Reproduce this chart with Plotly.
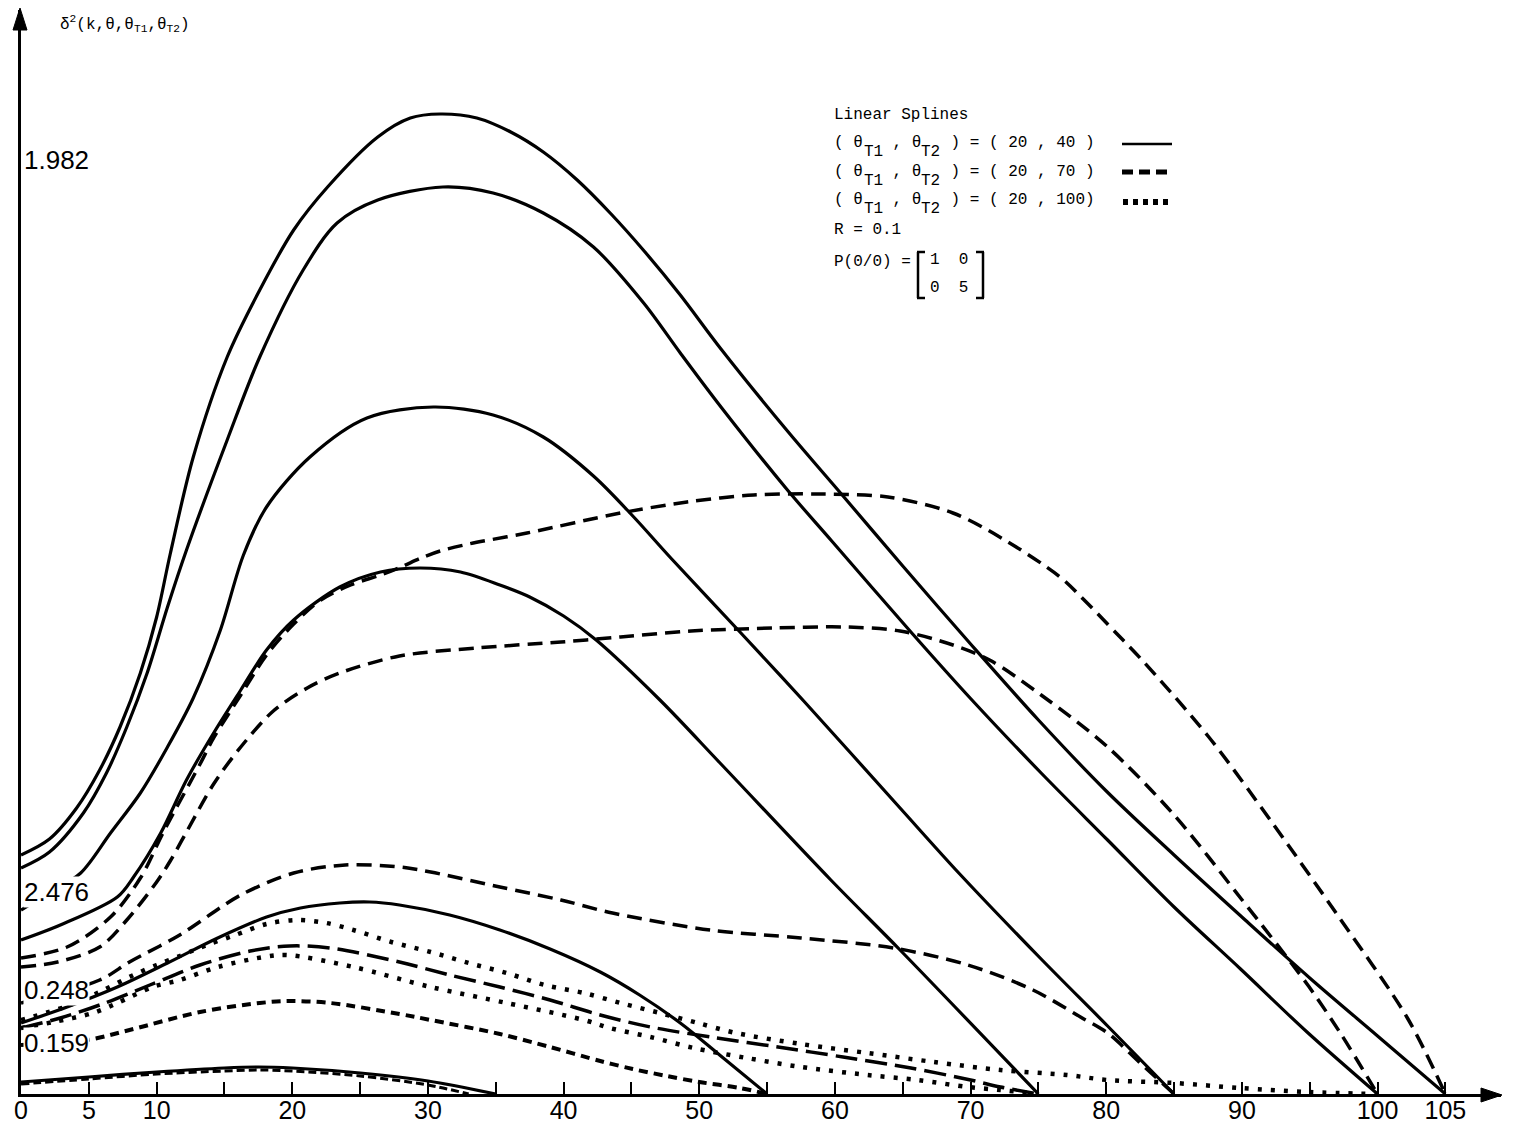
import plotly.graph_objects as go

# ---------------- data (theta, delta^2 in arbitrary vertical units) ----------------
# (theta_T1, theta_T2) = (20, 40)  -> solid
theta_s1 = [0, 2.1, 4.1, 5.8, 7.3, 8.8, 10.0, 11.0, 12.7, 15.2, 17.6, 20.1, 22.6, 26.3, 28.7, 30.9, 33.6, 36.1, 38.5, 41.0, 43.5, 46.0, 48.6, 51.6, 56.5, 60.6, 65.0, 70.0, 75.0, 80.0, 85.0, 90.0, 95.0, 100.0, 105]
val_s1 = [2.39, 2.55, 2.86, 3.24, 3.67, 4.21, 4.77, 5.40, 6.37, 7.37, 8.04, 8.64, 9.07, 9.57, 9.76, 9.80, 9.76, 9.62, 9.42, 9.14, 8.80, 8.42, 7.99, 7.45, 6.63, 5.98, 5.28, 4.50, 3.74, 3.03, 2.39, 1.77, 1.16, 0.58, 0]

theta_s2 = [0, 2.1, 4.6, 6.3, 7.8, 9.3, 10.8, 12.2, 15.2, 17.6, 20.8, 23.3, 26.3, 31.1, 34.8, 38.5, 42.2, 45.9, 48.6, 51.6, 56.5, 59.7, 65.6, 70.1, 75.2, 80.1, 85.0, 89.9, 94.8, 100]
val_s2 = [2.26, 2.42, 2.81, 3.21, 3.67, 4.21, 4.87, 5.44, 6.54, 7.37, 8.24, 8.71, 8.94, 9.07, 9.01, 8.81, 8.47, 7.91, 7.41, 6.87, 6.04, 5.54, 4.62, 3.94, 3.21, 2.54, 1.87, 1.25, 0.62, 0]

theta_s3 = [0, 2.1, 4.4, 6.6, 8.8, 10.8, 12.7, 14.7, 16.4, 18.1, 21.3, 25.5, 30.4, 34.8, 38.5, 42.2, 45.1, 47.9, 53.0, 57.7, 64.8, 69.2, 75.2, 80.1, 85]
val_s3 = [1.84, 2.01, 2.21, 2.61, 3.01, 3.47, 3.96, 4.64, 5.39, 5.87, 6.37, 6.76, 6.87, 6.79, 6.57, 6.18, 5.78, 5.36, 4.62, 3.93, 2.86, 2.20, 1.35, 0.68, 0]

theta_s4 = [0, 2.9, 7.1, 8.3, 10.3, 12.2, 14.2, 16.2, 18.1, 20.1, 23.5, 26.5, 29.4, 32.4, 35.3, 37.5, 40.0, 42.4, 47.1, 51.6, 59.7, 64.8, 75]
val_s4 = [1.54, 1.69, 1.97, 2.17, 2.61, 3.14, 3.61, 4.04, 4.44, 4.74, 5.07, 5.22, 5.26, 5.22, 5.09, 4.97, 4.78, 4.54, 3.94, 3.30, 2.14, 1.44, 0]

theta_s5 = [0, 3.4, 7.1, 10.8, 14.5, 18.1, 20.6, 23.5, 25.7, 27.9, 31.6, 35.3, 39.0, 42.7, 45.6, 48.6, 51.5, 55]
val_s5 = [0.71, 0.87, 1.07, 1.31, 1.56, 1.77, 1.86, 1.91, 1.92, 1.89, 1.79, 1.64, 1.45, 1.22, 0.99, 0.71, 0.39, 0]

theta_s6 = [0, 5, 10, 15, 17.5, 20, 25, 30, 35]
val_s6 = [0.12, 0.17, 0.22, 0.26, 0.27, 0.26, 0.21, 0.13, 0]

# (theta_T1, theta_T2) = (20, 70)  -> dashed
theta_d1 = [0, 3.4, 6.6, 8.8, 10.5, 13.2, 14.2, 16.2, 18.1, 20.1, 22.1, 24.3, 26.5, 28.0, 29.5, 30.9, 33.0, 37.3, 44.2, 49.1, 54.0, 58.9, 63.9, 68.7, 72.4, 76.6, 78.3, 80.8, 82.5, 87.5, 92.3, 97.3, 102.2, 105]
val_d1 = [1.36, 1.47, 1.77, 2.16, 2.62, 3.30, 3.56, 3.99, 4.39, 4.70, 4.94, 5.09, 5.19, 5.27, 5.36, 5.43, 5.50, 5.61, 5.81, 5.92, 5.99, 6.00, 5.97, 5.81, 5.55, 5.17, 4.95, 4.60, 4.36, 3.58, 2.70, 1.74, 0.76, 0]

theta_d2 = [0, 2.7, 5.8, 7.8, 10.0, 11.0, 12.2, 14.2, 16.2, 18.6, 21.1, 23.5, 27.9, 33.6, 39.8, 44.2, 49.4, 55.5, 60.8, 64.8, 68.7, 71.4, 75.2, 80.1, 85.0, 89.9, 94.8, 97.3, 100]
val_d2 = [1.27, 1.32, 1.47, 1.74, 2.12, 2.33, 2.62, 3.10, 3.47, 3.83, 4.06, 4.21, 4.38, 4.46, 4.52, 4.57, 4.63, 4.66, 4.67, 4.63, 4.49, 4.34, 3.99, 3.47, 2.79, 1.96, 1.10, 0.60, 0]

theta_d3 = [0, 5.8, 8.0, 11.7, 16.2, 20.1, 23.9, 27.9, 30.2, 35.3, 39.8, 43.6, 50.8, 57.5, 64.3, 69.8, 74.6, 78.1, 80.1, 82.5, 85]
val_d3 = [0.91, 1.14, 1.32, 1.59, 1.99, 2.21, 2.29, 2.27, 2.22, 2.07, 1.94, 1.81, 1.64, 1.56, 1.46, 1.29, 1.04, 0.77, 0.61, 0.31, 0]

theta_d4 = [0, 2.9, 5.8, 9.5, 13.2, 16.9, 19.8, 22.8, 27.9, 31.6, 35.3, 39.0, 42.7, 46.4, 51.3, 55.8, 60.6, 65.6, 70.0, 72.2, 75]
val_d4 = [0.66, 0.76, 0.89, 1.09, 1.29, 1.43, 1.48, 1.46, 1.32, 1.19, 1.07, 0.94, 0.79, 0.67, 0.56, 0.47, 0.37, 0.26, 0.14, 0.07, 0]

theta_d5 = [0, 4.9, 8.0, 13.2, 17.6, 19.8, 22.8, 27.9, 30.2, 35.3, 39.0, 42.7, 45.1, 47.6, 50.0, 53.0, 55]
val_d5 = [0.49, 0.54, 0.64, 0.82, 0.91, 0.93, 0.91, 0.80, 0.74, 0.60, 0.47, 0.33, 0.25, 0.18, 0.12, 0.06, 0]

theta_d6 = [0, 5, 10, 15, 17.5, 20, 25, 30, 33]
val_d6 = [0.10, 0.15, 0.20, 0.23, 0.24, 0.23, 0.18, 0.09, 0]

# (theta_T1, theta_T2) = (20, 100)  -> dotted
theta_p1 = [0, 3.4, 5.8, 8.3, 10.0, 11.7, 13.7, 15.6, 18.1, 20.3, 22.5, 24.5, 27.3, 30.2, 33.0, 35.8, 38.6, 41.5, 44.2, 47.1, 49.9, 52.7, 57.5, 62.4, 67.3, 72.2, 77.1, 80.1, 85.0, 89.9, 94.8, 100]
val_p1 = [0.74, 0.88, 1.02, 1.19, 1.29, 1.38, 1.49, 1.58, 1.70, 1.74, 1.71, 1.64, 1.52, 1.42, 1.31, 1.21, 1.09, 1.01, 0.91, 0.81, 0.71, 0.61, 0.50, 0.41, 0.32, 0.24, 0.19, 0.14, 0.11, 0.06, 0.02, 0]

theta_p2 = [0, 2.4, 5.3, 7.1, 9.7, 11.7, 14.5, 17.9, 19.6, 24.5, 30.2, 35.8, 41.5, 43.4, 46.4, 49.6, 53.5, 57.5, 62.4, 66.1, 69.8, 72.2, 75]
val_p2 = [0.66, 0.72, 0.81, 0.91, 1.07, 1.14, 1.27, 1.37, 1.39, 1.27, 1.07, 0.91, 0.74, 0.66, 0.57, 0.46, 0.36, 0.27, 0.19, 0.14, 0.07, 0.04, 0]

tick_vals = [0, 5, 10, 20, 30, 40, 50, 60, 70, 80, 90, 100, 105]
tick_text = ["0", "5", "10", "20", "30", "40", "50", "60", "70", "80", "90", "100", "105"]
minor_tick_vals = [15, 25, 35, 45, 55, 65, 75, 85, 95]

start_labels = ["1.982", "2.476", "0.248", "0.159"]

# ---------------- figure ----------------
# page has an 8px body margin; figure is sized so that page coordinates match the reference
W, H = 1506, 1117
ML, MR, MT, MB = 13, 13, 2, 31
XMAX, YMAX = 109.1, 10.84
PW, PH = W - ML - MR, H - MT - MB
SX = PW / XMAX
SY = PH / YMAX
X0PAGE, Y0PAGE = 21, 1094   # page pixel of the origin


def X(px):
    return (px - X0PAGE) / SX


def Y(py):
    return (Y0PAGE - py) / SY


def PXp(px):
    return (px - X0PAGE) / PW


def PYp(py):
    return (Y0PAGE - py) / PH


solid = dict(color="black", width=3.2)
styles = [
    (theta_d1, val_d1, dict(color="black", width=3.5, dash="15px,8px")),
    (theta_d2, val_d2, dict(color="black", width=3.5, dash="15px,8px")),
    (theta_d3, val_d3, dict(color="black", width=3.5, dash="15px,8px")),
    (theta_d4, val_d4, dict(color="black", width=3.5, dash="22px,8px")),
    (theta_d5, val_d5, dict(color="black", width=4.0, dash="9px,6px")),
    (theta_d6, val_d6, dict(color="black", width=3.0, dash="8px,4px")),
    (theta_p1, val_p1, dict(color="black", width=4.5, dash="4px,9px")),
    (theta_p2, val_p2, dict(color="black", width=4.5, dash="4px,9px")),
    (theta_s1, val_s1, solid),
    (theta_s2, val_s2, solid),
    (theta_s3, val_s3, solid),
    (theta_s4, val_s4, solid),
    (theta_s5, val_s5, solid),
    (theta_s6, val_s6, solid),
]

fig = go.Figure()
for tx, vy, ln in styles:
    fig.add_trace(go.Scatter(x=tx, y=vy, mode="lines",
                             line=dict(shape="spline", smoothing=0.9, **ln),
                             showlegend=False, hoverinfo="skip"))

mono = "Liberation Mono, Courier New, monospace"
sans = "Liberation Sans, Arial, sans-serif"
NB = "\u00a0"

ann = []
# axis titles
ann.append(dict(x=X(58), y=Y(24), xref="x", yref="y", xanchor="left", yanchor="middle", showarrow=False,
                text="δ<sup>2</sup>(k,θ,θ<sub>T1</sub>,θ<sub>T2</sub>)", font=dict(family=mono, size=16, color="black")))
ann.append(dict(x=X(1516), y=Y(1097), xref="x", yref="y", xanchor="center", yanchor="middle", showarrow=False,
                text="θ", font=dict(family=mono, size=15, color="black")))
# start-value labels
for lab, (px, py) in zip(start_labels, [(23, 160), (23, 892), (23, 990), (23, 1043)]):
    ann.append(dict(x=X(px), y=Y(py), xref="x", yref="y", xanchor="left", yanchor="middle", showarrow=False,
                    text=lab, bgcolor="white", borderpad=0,
                    font=dict(family=sans, size=26, color="black")))

# legend block (monospace grid)
lf = dict(family=mono, size=16, color="black")
CW = 9.6
LX = 833


def txt(px, py, s):
    ann.append(dict(x=X(px), y=Y(py), xref="x", yref="y", xanchor="left", yanchor="middle",
                    showarrow=False, text=s, font=lf, borderpad=0))


txt(LX, 115, "Linear" + NB + "Splines")
rows = [("( 20 , 40 )", 143), ("( 20 , 70 )", 172), ("( 20 , 100)", 200)]
for tail, py in rows:
    txt(LX, py, "(" + NB + "θ")
    txt(LX + 3 * CW + 1, py + 9, "T1")
    txt(LX + 5 * CW + 1, py, NB + "," + NB + "θ")
    txt(LX + 9 * CW + 1, py + 9, "T2")
    txt(LX + 11 * CW + 1, py, NB + ")" + NB + "=" + NB + tail.replace(" ", NB))
txt(LX, 230, "R" + NB + "=" + NB + "0.1")
txt(LX, 262, "P(0/0)" + NB + "=")
txt(929, 260, "1" + NB * 2 + "0")
txt(929, 288, "0" + NB * 2 + "5")

shapes = []


def seg(x0, y0, x1, y1, width=2.5, dash=None):
    d = dict(type="line", xref="paper", yref="paper", x0=PXp(x0), y0=PYp(y0), x1=PXp(x1), y1=PYp(y1),
             line=dict(color="black", width=width))
    if dash:
        d["line"]["dash"] = dash
    shapes.append(d)


def tri(p1, p2, p3):
    path = "M {},{} L {},{} L {},{} Z".format(PXp(p1[0]), PYp(p1[1]), PXp(p2[0]), PYp(p2[1]),
                                              PXp(p3[0]), PYp(p3[1]))
    shapes.append(dict(type="path", xref="paper", yref="paper", path=path, fillcolor="black",
                       line=dict(color="black", width=1)))


# axis arrowheads
tri((1502, 1095), (1481, 1088), (1481, 1102))
tri((20, 8), (13, 30), (27, 30))
# legend samples
seg(1122, 144, 1172, 144, 2.5)
seg(1122, 172, 1172, 172, 5, "11px,6px")
seg(1123, 202, 1172, 202, 6, "5px,5px")
# matrix brackets
seg(918, 252, 918, 298, 2.5)
seg(917, 252, 925, 252, 2.5)
seg(917, 298, 925, 298, 2.5)
seg(983, 252, 983, 298, 2.5)
seg(976, 252, 984, 252, 2.5)
seg(976, 298, 984, 298, 2.5)

fig.update_layout(
    width=W, height=H,
    margin=dict(l=ML, r=MR, t=MT, b=MB, autoexpand=False),
    paper_bgcolor="white", plot_bgcolor="white",
    annotations=ann, shapes=shapes,
    xaxis=dict(range=[0, XMAX], showgrid=False, zeroline=False, showline=True, linecolor="black",
               linewidth=3, ticks="inside", ticklen=12, tickwidth=2, tickcolor="black",
               tickmode="array", tickvals=tick_vals, ticktext=tick_text, automargin=False,
               ticklabelstandoff=-8,
               minor=dict(tickmode="array", tickvals=minor_tick_vals, ticks="inside", ticklen=12,
                          tickwidth=2, tickcolor="black", showgrid=False),
               tickfont=dict(family=sans, size=25, color="black")),
    yaxis=dict(range=[0, YMAX], showgrid=False, zeroline=False, showline=True, linecolor="black",
               linewidth=3, showticklabels=False, ticks="", automargin=False),
)

fig.write_html("out.html")
